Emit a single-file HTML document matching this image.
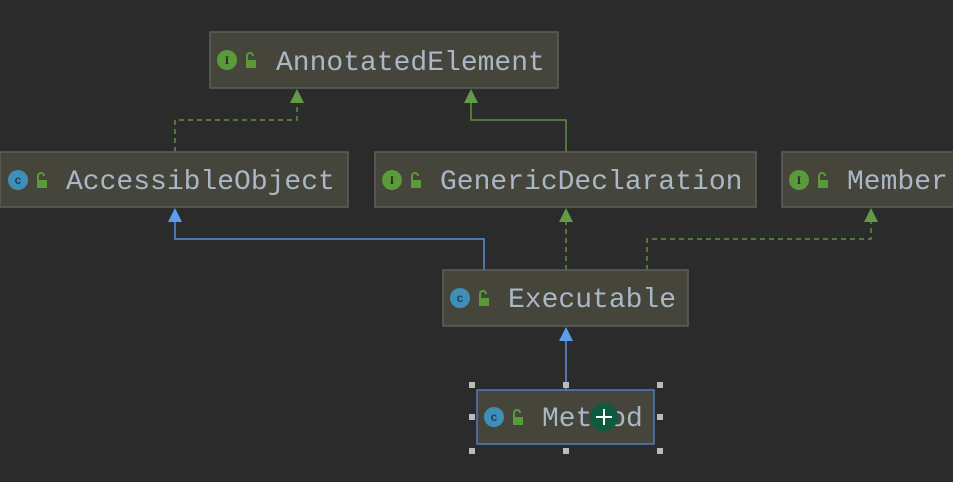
<!DOCTYPE html>
<html><head><meta charset="utf-8"><style>
html,body{margin:0;padding:0;background:#2b2b2b;width:953px;height:482px;overflow:hidden}
svg text{font-family:"Liberation Mono","DejaVu Sans Mono",monospace;font-size:28px;fill:#a9b7c6}
</style></head><body>
<svg width="953" height="482" xmlns="http://www.w3.org/2000/svg">
<rect width="953" height="482" fill="#2b2b2b"/>
<defs>
<g id="lock"><rect x="-5" y="-2" width="10" height="8" fill="#5a9a3a"/><path d="M-4,-2 v-4 a3,3 0 0 1 6,0" stroke="#5a9a3a" stroke-width="2" fill="none"/></g>
</defs>
<!-- edges -->
<g fill="none" stroke-width="1.5">
<path d="M175,152 V120 H297 V100" stroke="#5f8f45" stroke-dasharray="5,4"/>
<path d="M566,152 V120 H471 V100" stroke="#5f8f45"/>
<path d="M484,270 V239 H175 V220" stroke="#5a8fd8"/>
<path d="M566,270 V220" stroke="#5f8f45" stroke-dasharray="5,4"/>
<path d="M647,270 V239 H871 V220" stroke="#5f8f45" stroke-dasharray="5,4"/>
<path d="M566,390 V340" stroke="#5a8fd8"/>
</g>
<g fill="#629a48">
<path d="M297,89 L290,103 H304Z"/>
<path d="M471,89 L464,103 H478Z"/>
<path d="M566,208 L559,222 H573Z"/>
<path d="M871,208 L864,222 H878Z"/>
</g>
<g fill="#5a9ef0">
<path d="M175,208 L168,222 H182Z"/>
<path d="M566,327 L559,341 H573Z"/>
</g>
<!-- nodes -->
<g stroke="#5f5f5a" stroke-width="1.5" fill="#46453c">
<rect x="210" y="32" width="348" height="56"/>
<rect x="0" y="152" width="348" height="55"/>
<rect x="375" y="152" width="381" height="55"/>
<rect x="782" y="152" width="180" height="55"/>
<rect x="443" y="270" width="245" height="56"/>
<rect x="477" y="390" width="177" height="54" stroke="#4f7fbf"/>
</g>
<!-- icons -->
<g font-family="Liberation Sans" font-size="11" font-weight="bold" text-anchor="middle">
<circle cx="227" cy="60" r="10" fill="#5a9a3a"/><text x="227" y="64" style="font-family:'Liberation Serif';font-size:12px;fill:#2b2b2b">I</text>
<circle cx="18" cy="180" r="10" fill="#3d8fb8"/><text x="18" y="184" style="font-family:'Liberation Sans';font-size:12px;fill:#1d3f55">c</text>
<circle cx="392" cy="180" r="10" fill="#5a9a3a"/><text x="392" y="184" style="font-family:'Liberation Serif';font-size:12px;fill:#2b2b2b">I</text>
<circle cx="799" cy="180" r="10" fill="#5a9a3a"/><text x="799" y="184" style="font-family:'Liberation Serif';font-size:12px;fill:#2b2b2b">I</text>
<circle cx="460" cy="298" r="10" fill="#3d8fb8"/><text x="460" y="302" style="font-family:'Liberation Sans';font-size:12px;fill:#1d3f55">c</text>
<circle cx="494" cy="417" r="10" fill="#3d8fb8"/><text x="494" y="421" style="font-family:'Liberation Sans';font-size:12px;fill:#1d3f55">c</text>
</g>
<use href="#lock" x="251" y="62"/>
<use href="#lock" x="42" y="182"/>
<use href="#lock" x="416" y="182"/>
<use href="#lock" x="823" y="182"/>
<use href="#lock" x="484" y="300"/>
<use href="#lock" x="518" y="419"/>
<text x="276" y="70">AnnotatedElement</text>
<text x="66" y="189">AccessibleObject</text>
<text x="440" y="189">GenericDeclaration</text>
<text x="847" y="189">Member</text>
<text x="508" y="307">Executable</text>
<text x="542" y="426">Method</text>
<!-- selection handles -->
<g fill="#bbbbbb">
<rect x="469" y="382" width="6" height="6"/><rect x="563" y="382" width="6" height="6"/><rect x="657" y="382" width="6" height="6"/>
<rect x="469" y="414" width="6" height="6"/><rect x="657" y="414" width="6" height="6"/>
<rect x="469" y="448" width="6" height="6"/><rect x="563" y="448" width="6" height="6"/><rect x="657" y="448" width="6" height="6"/>
</g>
<circle cx="604" cy="417" r="14" fill="#0d5a3e"/>
<path d="M596,417 H612 M604,409 V425" stroke="#fff" stroke-width="2"/>
</svg>
</body></html>
